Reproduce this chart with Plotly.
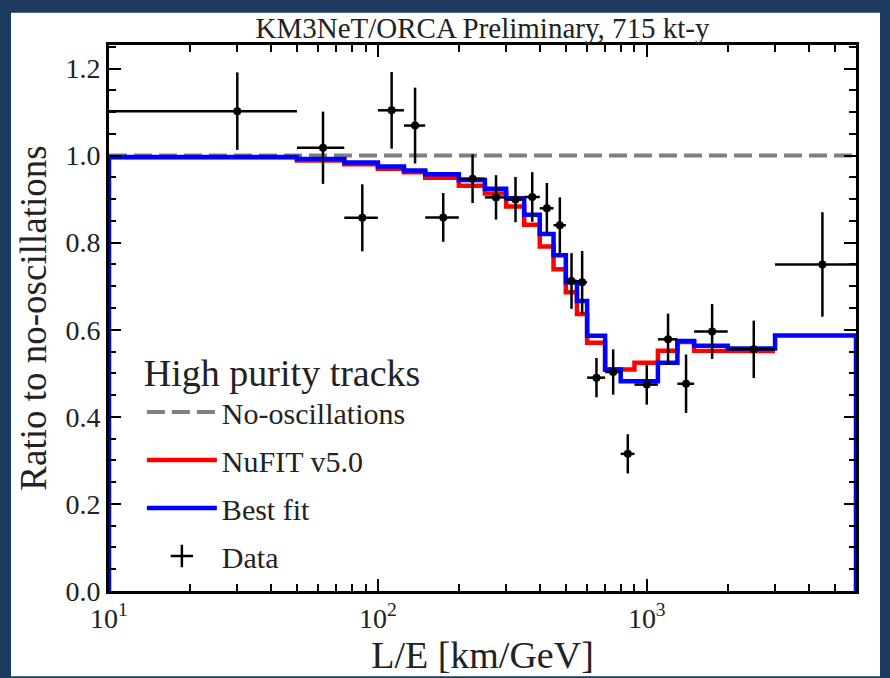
import numpy as np
import plotly.graph_objects as go

# ---------------- data ----------------
bin_edges = [10, 50, 75, 100, 125, 150, 200, 250, 300, 350, 400, 450, 500,
             550, 600, 700, 800, 900, 1100, 1300, 1500, 2000, 3000, 6000]

nufit_ratio = [0.996, 0.989, 0.980, 0.970, 0.962, 0.949, 0.931, 0.913, 0.883,
               0.841, 0.791, 0.739, 0.686, 0.636, 0.570, 0.509, 0.509, 0.524,
               0.552, 0.572, 0.552, 0.551]

bestfit_ratio = [0.997, 0.992, 0.984, 0.975, 0.966, 0.957, 0.944, 0.924, 0.902,
                 0.864, 0.820, 0.771, 0.709, 0.666, 0.586, 0.509, 0.482, 0.482,
                 0.524, 0.574, 0.563, 0.557, 0.587]

data_ratio = [1.102, 1.018, 0.857, 1.104, 1.069, 0.858, 0.947, 0.904, 0.899,
              0.905, 0.879, 0.840, 0.712, 0.709, 0.490, 0.503, 0.315, 0.474,
              0.578, 0.476, 0.596, 0.555, 0.750]

data_err = [0.089, 0.083, 0.077, 0.088, 0.087, 0.056, 0.056, 0.051, 0.052,
            0.057, 0.058, 0.064, 0.064, 0.072, 0.045, 0.052, 0.045, 0.046,
            0.059, 0.067, 0.063, 0.066, 0.120]

no_osc_ratio = 1.0

x_tickvals = [10, 100, 1000]
x_ticktext = ["10<sup>1</sup>", "10<sup>2</sup>", "10<sup>3</sup>"]

title_text = "KM3NeT/ORCA Preliminary, 715 kt-y"
legend_title = "High purity tracks"

# ---------------- derived ----------------
edges = np.array(bin_edges, dtype=float)
lo, hi = edges[:-1], edges[1:]
centers = (lo + hi) / 2
half_w = (hi - lo) / 2


def step_xy(values, close=False):
    n = len(values)
    xs, ys = [], []
    if close:
        xs.append(lo[0]); ys.append(0.0)
    for i in range(n):
        xs += [lo[i], hi[i]]
        ys += [values[i], values[i]]
    if close:
        xs.append(hi[n - 1]); ys.append(0.0)
    return xs, ys


FONT = "'Liberation Serif', 'DejaVu Serif', serif"
TXT = "#222222"
navy = "#1b3a5e"

fig = go.Figure()

fig.add_trace(go.Scatter(
    x=[edges[0], edges[-1]], y=[no_osc_ratio, no_osc_ratio], mode="lines",
    line=dict(color="#808080", width=4, dash="18px,7px"),
    name="No-oscillations", legendgroup="a"))

rx, ry = step_xy(nufit_ratio)
fig.add_trace(go.Scatter(x=rx, y=ry, mode="lines",
                         line=dict(color="#ff0000", width=4.5),
                         name="NuFIT v5.0", legendgroup="b"))

bx, by = step_xy(bestfit_ratio, close=True)
fig.add_trace(go.Scatter(x=bx, y=by, mode="lines",
                         line=dict(color="#0000ff", width=4.5),
                         name="Best fit", legendgroup="c"))

fig.add_trace(go.Scatter(
    x=centers, y=data_ratio, mode="markers",
    marker=dict(color="black", size=8),
    error_y=dict(type="data", array=data_err, color="black", thickness=2.5, width=0),
    error_x=dict(type="data", array=half_w, color="black", thickness=2.5, width=0),
    name="Data", legendgroup="d", showlegend=False))

# legend proxy for the data glyph
fig.add_trace(go.Scatter(
    x=[None], y=[None], mode="markers",
    marker=dict(symbol="cross-thin", size=26, color="black",
                line=dict(width=2.5, color="black")),
    name="Data", legendgroup="d"))

axis_common = dict(
    showline=True, linecolor="black", linewidth=3, mirror="allticks",
    ticks="inside", ticklen=12, tickwidth=2, tickcolor="black",
    showgrid=False, zeroline=False,
    tickfont=dict(family=FONT, size=28, color=TXT),
)

minor_x = [m * d for d in (10, 100, 1000) for m in range(2, 10) if m * d < edges[-1]]

fig.update_layout(
    width=890, height=678,
    margin=dict(l=109, r=34, t=45, b=75),
    paper_bgcolor=navy, plot_bgcolor="white",
    title=dict(text=title_text, x=0.5, xref="paper", y=1 - 28 / 678,
               yref="container", xanchor="center", yanchor="middle",
               font=dict(family=FONT, size=29, color=TXT)),
    xaxis=dict(type="log", range=[1, np.log10(edges[-1])],
               tickvals=x_tickvals, ticktext=x_ticktext,
               minor=dict(tickvals=minor_x, ticks="inside", ticklen=7,
                          tickwidth=2, tickcolor="black"),
               title=dict(text="L/E [km/GeV]", standoff=6,
                          font=dict(family=FONT, size=38, color=TXT)),
               **axis_common),
    yaxis=dict(range=[0, 1.254], tick0=0, dtick=0.2, tickformat=".1f",
               minor=dict(dtick=0.05, ticks="inside", ticklen=7,
                          tickwidth=2, tickcolor="black"),
               title=dict(text="Ratio to no-oscillations", standoff=8,
                          font=dict(family=FONT, size=37, color=TXT)),
               **axis_common),
    legend=dict(x=0.044, y=0.466, xanchor="left", yanchor="top",
                bgcolor="rgba(0,0,0,0)", borderwidth=0,
                title=dict(text=legend_title,
                           font=dict(family=FONT, size=38, color=TXT)),
                font=dict(family=FONT, size=30, color=TXT),
                itemwidth=70, traceorder="grouped", tracegroupgap=6),
    shapes=[dict(type="rect", xref="paper", yref="paper",
                 x0=(11 - 109) / 747, x1=(880 - 109) / 747,
                 y0=(603 - 690) / 558, y1=(603 - 12) / 558,
                 fillcolor="white", line=dict(width=0), layer="below")],
)

fig.write_html("out.html")
